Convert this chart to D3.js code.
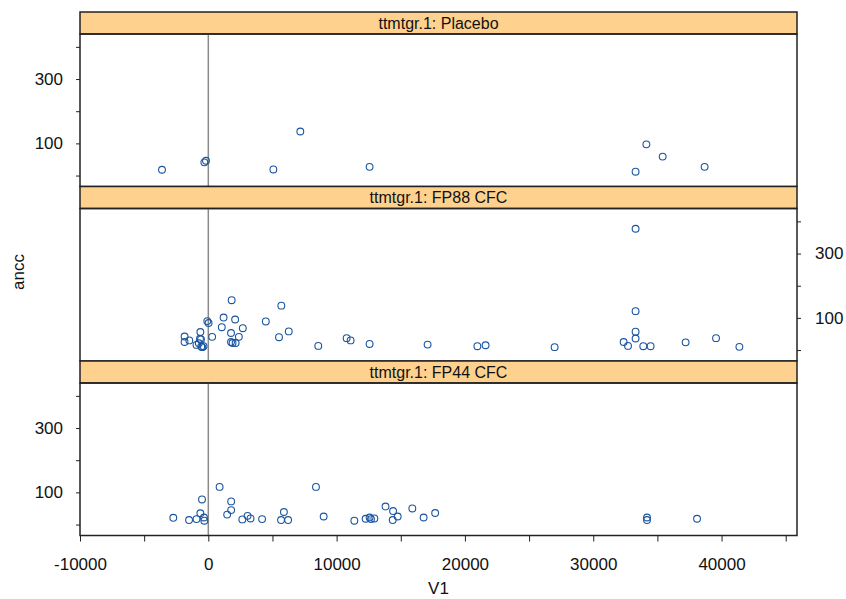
<!DOCTYPE html>
<html>
<head>
<meta charset="utf-8">
<script src="https://cdn.jsdelivr.net/npm/d3@7"></script>
<style>
body { margin: 0; background: #fff; }
text { font-family: "Liberation Sans", Arial, sans-serif; fill: #111; }
</style>
</head>
<body>
<script>
// values
var panelNames = ["ttmtgr.1: Placebo", "ttmtgr.1: FP88 CFC", "ttmtgr.1: FP44 CFC"];

var placeboV1 = [-3610, -310, -180, 5070, 7170, 12570, 34140, 35410, 33300, 38680];
var placeboAncc = [18, 41, 46, 19, 137, 27, 97, 59, 12, 27];

var fp88V1 = [1820, 5690, -80, 20, 1190, 2090, 4480, 1050, 2690, 6270, -620, 1770, -1850, 300, 2380, 5510,
	-1850, -1480, -650, -570, 1770, 1890, 2130, -920, -740, -550, -370, -470, 8570, 10780, 11090, 12570,
	17090, 20970, 21610, 26990, 33300, 33300, 33300, 33300, 32370, 32710, 33900, 34470, 37200, 39570, 41390];
var fp88Ancc = [155, 138, 90, 84, 101, 95, 89, 71, 68, 58, 56, 53, 42, 41, 41, 40,
	25, 30, 35, 33, 25, 22, 22, 16, 21, 11, 12, 9, 13, 37, 30, 19,
	17, 12, 15, 9, 377, 121, 57, 36, 25, 13, 12, 12, 24, 37, 10];

var fp44V1 = [880, -490, 1780, 1780, -620, 1470, -2730, -1500, -920, -340, -310, 2650, 3060, 3290, 4190, 5890,
	5670, 6220, 8390, 8990, 11380, 12260, 12570, 12680, 12940, 13810, 14400, 14370, 14760, 15900, 16780, 17680,
	34190, 34190, 38090];
var fp44Ancc = [117, 78, 72, 45, 35, 31, 21, 14, 17, 22, 12, 16, 27, 19, 17, 39,
	14, 14, 117, 25, 12, 18, 22, 17, 19, 56, 42, 14, 25, 50, 22, 36,
	22, 14, 18];

var xTicks = [-10000, -5000, 0, 5000, 10000, 15000, 20000, 25000, 30000, 35000, 40000, 45000];
var xLabels = [-10000, 0, 10000, 20000, 30000, 40000];
var yTicks = [0, 100, 200, 300, 400];
var yLabels = [100, 300];

var panelX = [placeboV1, fp88V1, fp44V1];
var panelY = [placeboAncc, fp88Ancc, fp44Ancc];

var W = 846, H = 599;
var left = 80, right = 797;
var top0 = 12, stripH = 22, panelH = 152.5;

var svg = d3.select("body").append("svg")
	.attr("width", W)
	.attr("height", H)
	.attr("xmlns", "http://www.w3.org/2000/svg");

var x = d3.scaleLinear().domain([-10000, 45880]).range([left, right]);

for(var p = 0; p < 3; p++){
	var stripTop = top0 + p * (stripH + panelH);
	var pTop = stripTop + stripH;
	var pBot = pTop + panelH;
	var y = d3.scaleLinear().domain([-34, 440]).range([pBot, pTop]);

	// strip
	svg.append("rect")
		.attr("x", left).attr("y", stripTop)
		.attr("width", right - left).attr("height", stripH)
		.attr("fill", "#fed18f")
		.attr("stroke", "#222").attr("stroke-width", 1.5);
	svg.append("text")
		.attr("x", (left + right) / 2)
		.attr("y", stripTop + stripH / 2)
		.attr("dy", ".36em")
		.attr("text-anchor", "middle")
		.style("font-size", "16px")
		.text(panelNames[p]);

	// reference line at 0
	svg.append("line")
		.attr("x1", x(0)).attr("x2", x(0))
		.attr("y1", pTop).attr("y2", pBot)
		.attr("stroke", "#8a8a8a").attr("stroke-width", 1.5);

	// points
	var pts = panelX[p].map(function(v, i){ return [v, panelY[p][i]]; });
	svg.append("g").selectAll("circle")
		.data(pts).enter().append("circle")
		.attr("cx", function(d){ return x(d[0]); })
		.attr("cy", function(d){ return y(d[1]); })
		.attr("r", 3.4)
		.attr("fill", "none")
		.attr("stroke", "#1a55a0")
		.attr("stroke-width", 1.1);

	// panel box
	svg.append("rect")
		.attr("x", left).attr("y", pTop)
		.attr("width", right - left).attr("height", panelH)
		.attr("fill", "none")
		.attr("stroke", "#222").attr("stroke-width", 1.5);

	// y axis alternates left / right
	var onLeft = (p != 1);
	var yAxis = (onLeft ? d3.axisLeft(y) : d3.axisRight(y))
		.tickValues(yTicks)
		.tickSize(4)
		.tickPadding(onLeft ? 13 : 14)
		.tickFormat(function(d){ return yLabels.indexOf(d) >= 0 ? d : ""; });
	var ga = svg.append("g")
		.attr("transform", "translate(" + (onLeft ? left : right) + ",0)")
		.call(yAxis);
	ga.select(".domain").remove();
	ga.selectAll("line").attr("stroke", "#222");
	ga.selectAll("text").style("font-size", "17px").style("font-family", "Liberation Sans, Arial, sans-serif").attr("fill", "#111");

	// x axis only under the last panel
	if(p == 2){
		var xAxis = d3.axisBottom(x)
			.tickValues(xTicks)
			.tickSize(6)
			.tickPadding(16)
			.tickFormat(function(d){ return xLabels.indexOf(d) >= 0 ? d : ""; });
		var gx = svg.append("g")
			.attr("transform", "translate(0," + pBot + ")")
			.call(xAxis);
		gx.select(".domain").remove();
		gx.selectAll("line").attr("stroke", "#222");
		gx.selectAll("text").style("font-size", "17px").style("font-family", "Liberation Sans, Arial, sans-serif").attr("fill", "#111");
	}
}

svg.append("text")
	.attr("x", (left + right) / 2)
	.attr("y", 594)
	.attr("text-anchor", "middle")
	.style("font-size", "17px")
	.text("V1");

svg.append("text")
	.attr("transform", "translate(24,272) rotate(-90)")
	.attr("text-anchor", "middle")
	.style("font-size", "17px")
	.text("ancc");
</script>
</body>
</html>
